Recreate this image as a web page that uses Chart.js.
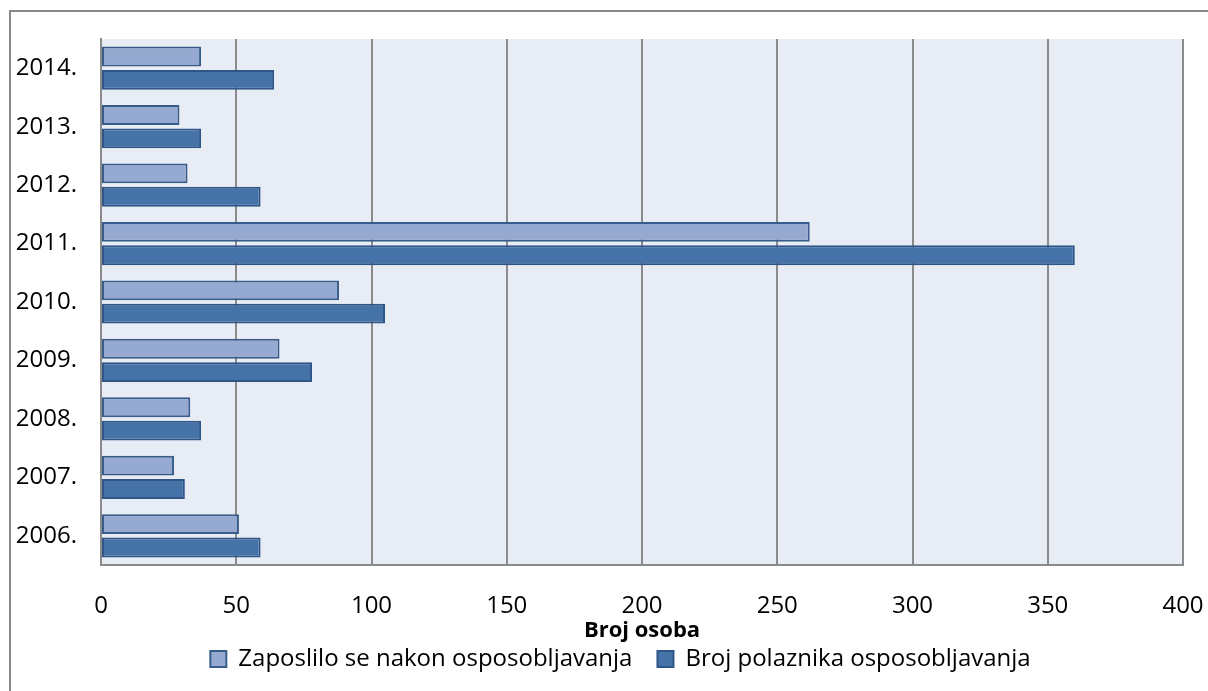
<!DOCTYPE html>
<html>
<head>
<meta charset="utf-8">
<script src="https://cdn.jsdelivr.net/npm/chart.js@4"></script>
<style>
  html, body { margin: 0; padding: 0; background: #fff; }
  #wrap { width: 1208px; height: 691px; }
</style>
</head>
<body>
<div id="wrap"><canvas id="chart-broj"></canvas></div>
<script>
var years = ["2006.", "2007.", "2008.", "2009.", "2010.", "2011.", "2012.", "2013.", "2014."];
var zaposlilo = [51, 27, 33, 66, 88, 262, 32, 29, 37];
var polaznici = [59, 31, 37, 78, 105, 360, 59, 37, 64];
var xTicks = [0, 50, 100, 150, 200, 250, 300, 350, 400];

var fontName = "'Open Sans', Lato, sans-serif";
var gridGray = "#8a8a8a";

// plot area background + outer frame
var frame = {
    id: 'frame',
    afterLayout: function(chart) {
        // legend sits a bit right of centre in the original
        chart.legend.left += 29;
        chart.legend.right += 29;
    },
    beforeDraw: function(chart) {
        var c = chart.ctx, a = chart.chartArea;
        c.save();
        c.fillStyle = "#fff";
        c.fillRect(0, 0, chart.width, chart.height);
        c.fillStyle = "#e8ecf4";
        c.fillRect(a.left, a.top, a.right - a.left, a.bottom - a.top);
        c.strokeStyle = "#8a8a8a";
        c.lineWidth = 2;
        c.beginPath();
        c.moveTo(10, chart.height + 5);
        c.lineTo(10, 11);
        c.lineTo(chart.width + 5, 11);
        c.stroke();
        c.restore();
    }
};

var ctx = document.getElementById("chart-broj");
var myChart = new Chart(ctx, {
    type: 'bar',
    data: {
        labels: years,
        datasets: [{
            label: "Zaposlilo se nakon osposobljavanja",
            data: zaposlilo,
            backgroundColor: "#95a9d1",
            borderColor: "#385d8a",
            borderWidth: 2,
            borderSkipped: false
        }, {
            label: "Broj polaznika osposobljavanja",
            data: polaznici,
            backgroundColor: "#4573a7",
            borderColor: "#2f5687",
            borderWidth: 2,
            borderSkipped: false
        }]
    },
    plugins: [frame],
    options: {
        indexAxis: 'y',
        responsive: true,
        maintainAspectRatio: false,
        animation: false,
        datasets: {
            bar: { categoryPercentage: 0.8, barPercentage: 0.85 }
        },
        layout: {
            padding: { left: 0, top: 39, right: 25, bottom: 10 }
        },
        scales: {
            x: {
                min: 0,
                max: 400,
                afterBuildTicks: function(scale) {
                    scale.ticks = xTicks.map(function(v) { return { value: v }; });
                },
                afterFit: function(scale) {
                    scale.height = 57;
                    scale.paddingLeft = 0;
                    scale.paddingRight = 0;
                },
                grid: { color: gridGray, lineWidth: 2, drawTicks: false },
                border: { display: true, color: gridGray, width: 2 },
                ticks: {
                    color: "#000",
                    padding: 27,
                    maxRotation: 0,
                    font: { family: fontName, size: 24 }
                },
                title: {
                    display: true,
                    text: "Broj osoba",
                    color: "#000",
                    padding: { top: 0, bottom: -22 },
                    font: { family: fontName, size: 22, weight: 'bold' }
                }
            },
            y: {
                reverse: true,
                afterFit: function(scale) { scale.width = 101; },
                grid: { display: false, drawTicks: false },
                border: { display: true, color: gridGray, width: 2 },
                ticks: {
                    color: "#000",
                    padding: 24,
                    font: { family: fontName, size: 24 }
                }
            }
        },
        plugins: {
            legend: {
                position: 'bottom',
                labels: {
                    color: "#000",
                    boxWidth: 16,
                    boxHeight: 16,
                    padding: 25,
                    font: { family: fontName, size: 24 }
                }
            },
            title: { display: false },
            tooltip: { enabled: false }
        }
    }
});
</script>
</body>
</html>
